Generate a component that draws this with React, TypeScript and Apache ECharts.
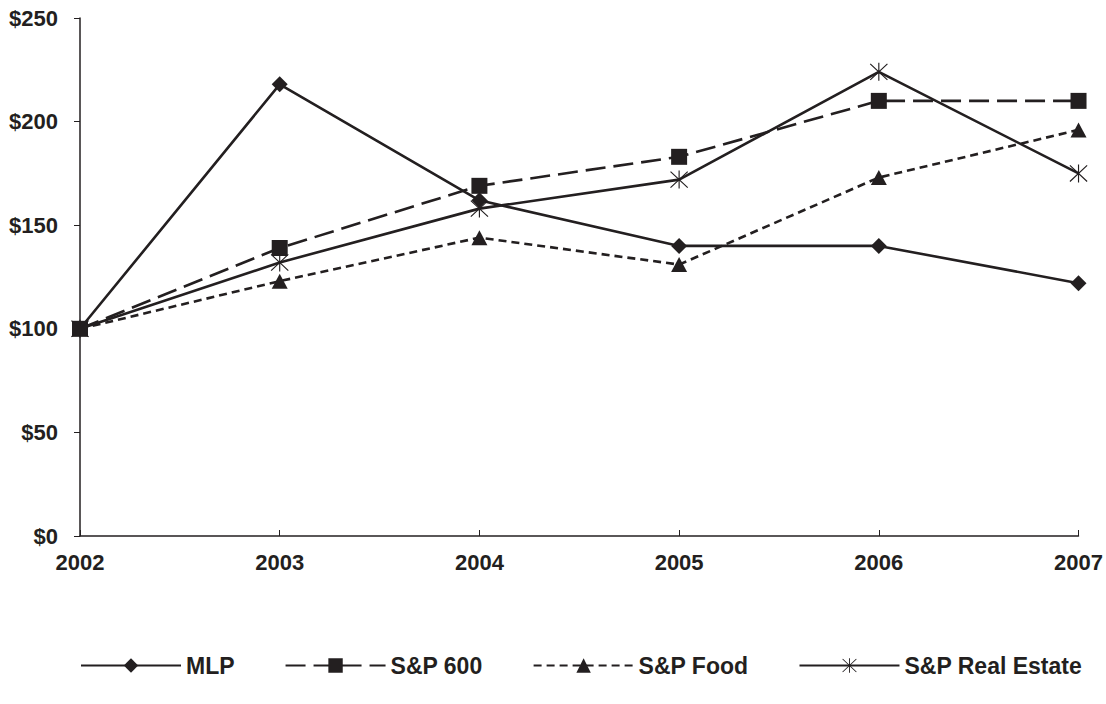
import React, { useEffect, useRef } from "react";
import * as echarts from "echarts";

const years = ["2002", "2003", "2004", "2005", "2006", "2007"];
const seriesNames = ["MLP", "S&P 600", "S&P Food", "S&P Real Estate"];
const mlp = [100, 218, 162, 140, 140, 122];
const sp600 = [100, 139, 169, 183, 210, 210];
const spFood = [100, 123, 144, 131, 173, 196];
const spRealEstate = [100, 132, 158, 172, 224, 175];
const yMin = 0;
const yMax = 250;
const yInterval = 50;

const INK = "#231f20";
const FONT = "'Liberation Sans', Arial, Helvetica, sans-serif";

const starPath =
  "path://M9.4 0 L10.6 0 L10.6 20 L9.4 20 Z " +
  "M1.424 0.576 L19.424 18.576 L18.576 19.424 L0.576 1.424 Z " +
  "M18.576 0.576 L19.424 1.424 L1.424 19.424 L0.576 18.576 Z";

export default function App() {
  const ref = useRef<HTMLDivElement>(null);

  useEffect(() => {
    if (!ref.current) return;
    const chart = echarts.init(ref.current, null, { renderer: "svg" });
    const mk = (
      name: string,
      data: number[],
      symbol: string,
      symbolSize: number | number[],
      type: any
    ) => ({
      name,
      type: "line",
      data,
      symbol,
      symbolSize,
      showAllSymbol: true,
      itemStyle: { color: INK, borderWidth: 0 },
      lineStyle: { color: INK, width: 2.6, type },
      emphasis: { disabled: true },
    });
    chart.setOption({
      animation: false,
      backgroundColor: "#ffffff",
      textStyle: { fontFamily: FONT },
      grid: { left: 80, right: 26, top: 18, bottom: 168, containLabel: false },
      xAxis: {
        type: "category",
        data: years,
        boundaryGap: false,
        axisLine: { lineStyle: { color: INK, width: 1.5 } },
        axisTick: { inside: true, length: 6, lineStyle: { color: INK, width: 1 } },
        axisLabel: {
          color: INK,
          fontWeight: "bold",
          fontSize: 22,
          fontFamily: FONT,
          margin: 15,
        },
        splitLine: { show: false },
      },
      yAxis: {
        type: "value",
        min: yMin,
        max: yMax,
        interval: yInterval,
        axisLine: { show: true, lineStyle: { color: INK, width: 1.5 } },
        axisTick: { show: true, inside: false, length: 6, lineStyle: { color: INK, width: 1 } },
        axisLabel: {
          color: INK,
          fontWeight: "bold",
          fontSize: 22,
          fontFamily: FONT,
          margin: 22,
          formatter: (v: number) => "$" + v,
        },
        splitLine: { show: false },
      },
      legend: {
        data: seriesNames,
        left: 80,
        top: 654,
        padding: 0,
        itemWidth: 100,
        itemHeight: 18,
        itemGap: 50,
        textStyle: {
          color: INK,
          fontWeight: "bold",
          fontSize: 23,
          fontFamily: FONT,
        },
      },
      series: [
        mk(seriesNames[0], mlp, "diamond", [16, 16], "solid"),
        mk(seriesNames[1], sp600, "rect", 16, [20, 8]),
        mk(seriesNames[2], spFood, "triangle", [16, 15], [8, 5]),
        mk(seriesNames[3], spRealEstate, starPath, 18, "solid"),
      ],
    });
    return () => chart.dispose();
  }, []);

  return (
    <div
      ref={ref}
      style={{ position: "fixed", left: 0, top: 0, width: 1106, height: 704, background: "#fff" }}
    />
  );
}
